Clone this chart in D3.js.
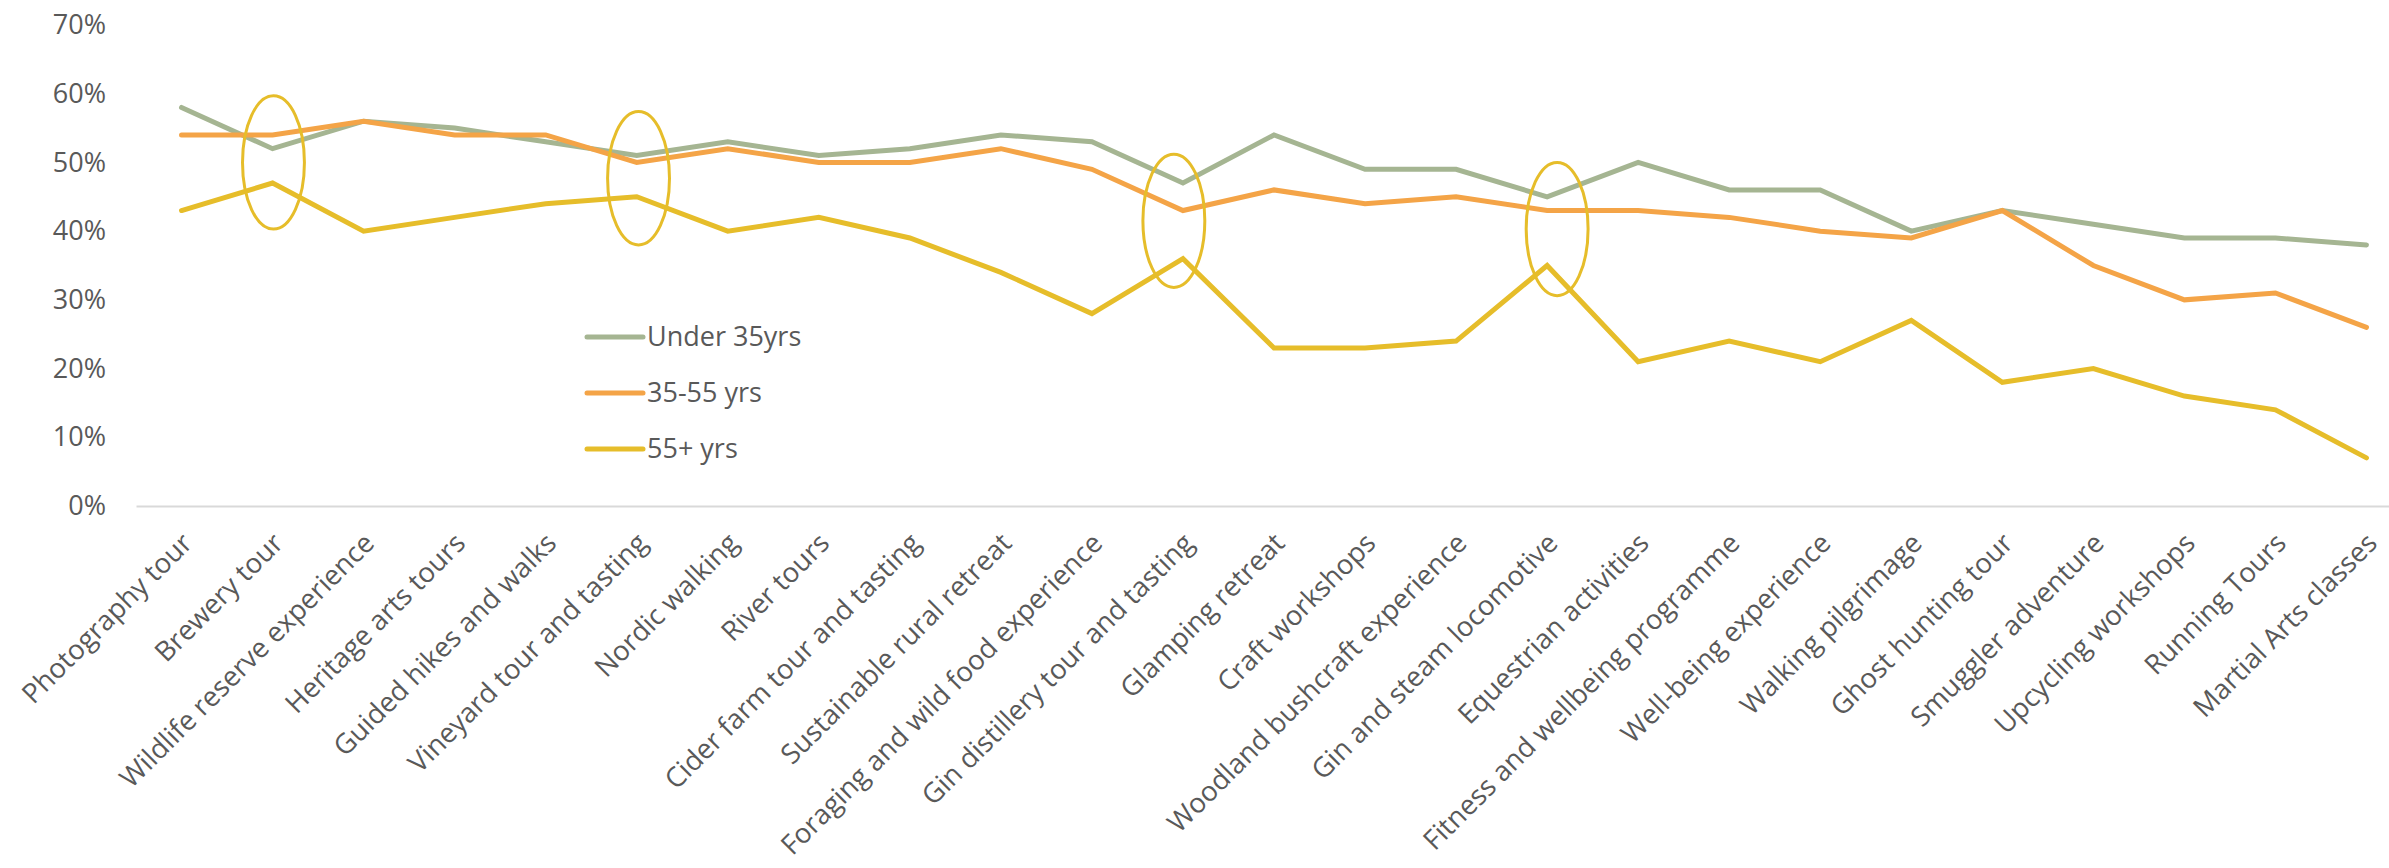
<!DOCTYPE html>
<html>
<meta charset="utf-8">
<style>
body { margin: 0; background: #fff; }
svg { display: block; }
text { font-family: "Open Sans", sans-serif; fill: #595959; }
</style>
<head>
  <script src="https://d3js.org/d3.v7.min.js"></script>
</head>
<body>
<script>
// categories and values (percent)
var categories = ["Photography tour", "Brewery tour", "Wildlife reserve experience", "Heritage arts tours",
  "Guided hikes and walks", "Vineyard tour and tasting", "Nordic walking", "River tours",
  "Cider farm tour and tasting", "Sustainable rural retreat", "Foraging and wild food experience",
  "Gin distillery tour and tasting", "Glamping retreat", "Craft workshops", "Woodland bushcraft experience",
  "Gin and steam locomotive", "Equestrian activities", "Fitness and wellbeing programme",
  "Well-being experience", "Walking pilgrimage", "Ghost hunting tour", "Smuggler adventure",
  "Upcycling workshops", "Running Tours", "Martial Arts classes"];

var under35 = [58, 52, 56, 55, 53, 51, 53, 51, 52, 54, 53, 47, 54, 49, 49, 45, 50, 46, 46, 40, 43, 41, 39, 39, 38];
var age35to55 = [54, 54, 56, 54, 54, 50, 52, 50, 50, 52, 49, 43, 46, 44, 45, 43, 43, 42, 40, 39, 43, 35, 30, 31, 26];
var over55 = [43, 47, 40, 42, 44, 45, 40, 42, 39, 34, 28, 36, 23, 23, 24, 35, 21, 24, 21, 27, 18, 20, 16, 14, 7];

var seriesNames = ["Under 35yrs", "35-55 yrs", "55+ yrs"];
var seriesColors = ["#A5B592", "#F4A447", "#E6BD2A"];
var yTicks = [0, 10, 20, 30, 40, 50, 60, 70];

// circled spots: category, centre value, sideways shift in steps
var highlights = [
  {cat: "Brewery tour", value: 50, shift: 0.01},
  {cat: "Vineyard tour and tasting", value: 47.7, shift: 0.02},
  {cat: "Gin distillery tour and tasting", value: 41.5, shift: -0.1},
  {cat: "Gin and steam locomotive", value: 40.3, shift: 0.11}
];

var width = 2389, height = 868;

var svg = d3.select("body").append("svg")
    .attr("width", width)
    .attr("height", height);

var x = d3.scalePoint()
    .domain(categories)
    .range([136, 2412])
    .padding(0.5);

var y = d3.scaleLinear()
    .domain([0, 70])
    .range([506, 25]);

// y axis labels only
var yAxis = svg.append("g")
    .attr("transform", "translate(136,0)")
    .call(d3.axisLeft(y).tickValues(yTicks).tickSize(0).tickPadding(30)
      .tickFormat(function(d) { return d + "%"; }));
yAxis.select(".domain").remove();
yAxis.selectAll("text")
    .style("font-size", "27px")
    .style("font-family", "Open Sans")
    .attr("fill", "#595959");

// x axis
var xAxis = svg.append("g")
    .attr("transform", "translate(0,506)")
    .call(d3.axisBottom(x).tickSize(0).tickSizeOuter(0));
xAxis.select(".domain")
    .attr("stroke", "#D9D9D9")
    .attr("stroke-width", 2);
xAxis.selectAll("text")
    .style("font-size", "27.5px")
    .style("font-family", "Open Sans")
    .attr("fill", "#595959")
    .attr("text-anchor", "end")
    .attr("y", 0)
    .attr("dy", "0.35em")
    .attr("transform", "translate(5,32) rotate(-45)");

var series = [under35, age35to55, over55];

var line = d3.line()
    .x(function(d, i) { return x(categories[i]); })
    .y(function(d) { return y(d); });

svg.selectAll("path.series")
    .data(series)
  .enter().append("path")
    .attr("class", "series")
    .attr("d", line)
    .attr("fill", "none")
    .attr("stroke", function(d, i) { return seriesColors[i]; })
    .attr("stroke-width", 5)
    .attr("stroke-linejoin", "miter")
    .attr("stroke-linecap", "round");

// ellipses
var step = x.step();
svg.selectAll("ellipse")
    .data(highlights)
  .enter().append("ellipse")
    .attr("cx", function(d) { return x(d.cat) + d.shift * step; })
    .attr("cy", function(d) { return y(d.value); })
    .attr("rx", 0.34 * step)
    .attr("ry", function(d) { return y(d.value - 9.7) - y(d.value); })
    .attr("fill", "none")
    .attr("stroke", "#E6BD2A")
    .attr("stroke-width", 3);

// legend
var legend = svg.selectAll("g.legend")
    .data(seriesNames)
  .enter().append("g")
    .attr("class", "legend")
    .attr("transform", function(d, i) { return "translate(587," + (337 + i * 56) + ")"; });

legend.append("line")
    .attr("x1", 0).attr("x2", 56)
    .attr("stroke", function(d, i) { return seriesColors[i]; })
    .attr("stroke-width", 5)
    .attr("stroke-linecap", "round");

legend.append("text")
    .attr("x", 60)
    .attr("dy", "0.35em")
    .style("font-size", "27px")
    .text(function(d) { return d; });
</script>
</body>
</html>
